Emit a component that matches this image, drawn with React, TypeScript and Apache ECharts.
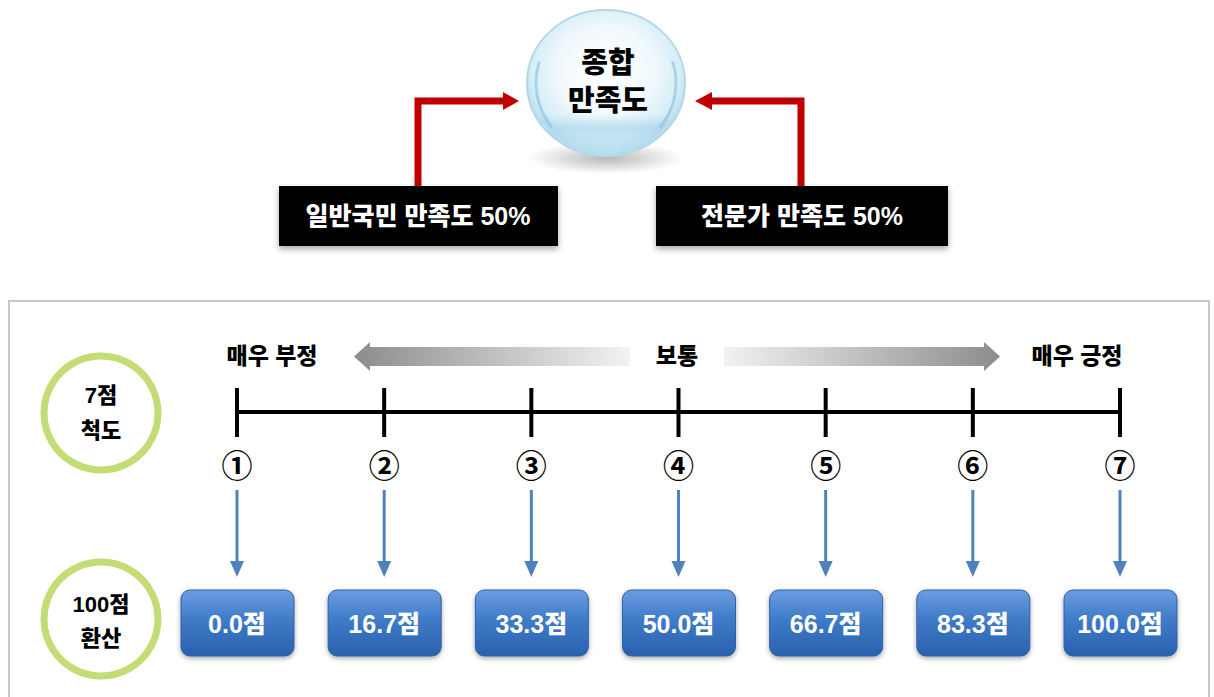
import React, { useEffect, useRef } from "react";
import * as echarts from "echarts";

// ---- data ----
const scalePoints = [1, 2, 3, 4, 5, 6, 7];
const scaleMarks = ["①", "②", "③", "④", "⑤", "⑥", "⑦"];
const convertedScores = [0.0, 16.7, 33.3, 50.0, 66.7, 83.3, 100.0];
const scaleEnds = ["매우 부정", "보통", "매우 긍정"];
const topTitle = ["종합", "만족도"];
const components = ["일반국민 만족도 50%", "전문가 만족도 50%"];
const rowLabels = [["7점", "척도"], ["100점", "환산"]];

const FONT = '"Liberation Sans", "Noto Sans CJK KR", sans-serif';

export default function App() {
  const ref = useRef<HTMLDivElement>(null);
  useEffect(() => {
    if (!ref.current) return;
    const chart = echarts.init(ref.current, undefined, { renderer: "svg" });

    const TL_Y = 412;

    const txt = (text: string, x: number, y: number, size: number, fill = "#000") => ({
      type: "text",
      silent: true,
      style: {
        text,
        x,
        y,
        fill,
        font: `900 ${size}px ${FONT}`,
        align: "center",
        verticalAlign: "middle",
        textAlign: "center",
        textVerticalAlign: "middle",
      },
    });

    const grayArrow = (tipX: number, endX: number, dir: number) => {
      const headLen = 16;
      const baseX = tipX - dir * headLen;
      return {
        type: "polygon",
        silent: true,
        shape: {
          points: [
            [endX, 347],
            [baseX, 347],
            [baseX, 342],
            [tipX, 356.5],
            [baseX, 371],
            [baseX, 366],
            [endX, 366],
          ],
        },
        style: {
          fill: {
            type: "linear",
            x: dir < 0 ? 0 : 1,
            y: 0,
            x2: dir < 0 ? 1 : 0,
            y2: 0,
            colorStops: [
              { offset: 0, color: "#8c8c8c" },
              { offset: 1, color: "#f2f2f2" },
            ],
          },
        },
      };
    };

    const graphic: any[] = [
      {
        type: "rect",
        silent: true,
        shape: { x: 9, y: 301, width: 1200, height: 420 },
        style: { fill: "#fff", stroke: "#c9c9c9", lineWidth: 2 },
        z: -10,
      },
      {
        type: "ellipse",
        silent: true,
        shape: { cx: 606, cy: 158, rx: 78, ry: 16 },
        style: {
          fill: {
            type: "radial",
            x: 0.5,
            y: 0.5,
            r: 0.5,
            colorStops: [
              { offset: 0, color: "rgba(0,0,0,0.28)" },
              { offset: 1, color: "rgba(0,0,0,0)" },
            ],
          },
        },
      },
      {
        type: "ellipse",
        silent: true,
        shape: { cx: 606, cy: 83, rx: 79, ry: 73 },
        style: {
          fill: {
            type: "radial",
            x: 0.5,
            y: 0.42,
            r: 0.55,
            colorStops: [
              { offset: 0, color: "#ffffff" },
              { offset: 0.55, color: "#f1f9fc" },
              { offset: 0.85, color: "#d6eef7" },
              { offset: 1, color: "#b5dcec" },
            ],
          },
          stroke: "#b3d9e9",
          lineWidth: 2,
        },
      },
      {
        type: "ellipse",
        silent: true,
        shape: { cx: 606, cy: 83, rx: 76, ry: 70 },
        style: {
          fill: {
            type: "linear",
            x: 0,
            y: 0,
            x2: 0,
            y2: 1,
            colorStops: [
              { offset: 0, color: "rgba(170,215,235,0)" },
              { offset: 0.72, color: "rgba(170,215,235,0)" },
              { offset: 0.82, color: "rgba(160,208,232,0.55)" },
              { offset: 1, color: "rgba(195,228,242,0.35)" },
            ],
          },
        },
      },
      {
        type: "arc",
        silent: true,
        shape: { cx: 606, cy: 83, r: 70, startAngle: Math.PI * 0.78, endAngle: Math.PI * 1.1 },
        style: { stroke: "rgba(130,190,220,0.55)", lineWidth: 3, fill: "none" },
      },
      {
        type: "arc",
        silent: true,
        shape: { cx: 606, cy: 83, r: 70, startAngle: -Math.PI * 0.1, endAngle: Math.PI * 0.22 },
        style: { stroke: "rgba(130,190,220,0.55)", lineWidth: 3, fill: "none" },
      },
      txt(topTitle[0], 608, 63, 29),
      txt(topTitle[1], 608, 101, 29),
      {
        type: "polyline",
        silent: true,
        shape: { points: [[418, 188], [418, 101], [506, 101]] },
        style: { stroke: "#c00000", lineWidth: 7, fill: "none", lineJoin: "miter" },
      },
      {
        type: "polygon",
        silent: true,
        shape: { points: [[503, 92], [503, 110], [519, 101]] },
        style: { fill: "#c00000" },
      },
      {
        type: "polyline",
        silent: true,
        shape: { points: [[801, 188], [801, 101], [709, 101]] },
        style: { stroke: "#c00000", lineWidth: 7, fill: "none", lineJoin: "miter" },
      },
      {
        type: "polygon",
        silent: true,
        shape: { points: [[712, 92], [712, 110], [695, 101]] },
        style: { fill: "#c00000" },
      },
      {
        type: "rect",
        silent: true,
        shape: { x: 279, y: 186, width: 279, height: 60 },
        style: { fill: "#000", shadowBlur: 6, shadowColor: "rgba(0,0,0,0.35)", shadowOffsetY: 3 },
      },
      txt(components[0], 418, 216, 25, "#fff"),
      {
        type: "rect",
        silent: true,
        shape: { x: 656, y: 186, width: 292, height: 60 },
        style: { fill: "#000", shadowBlur: 6, shadowColor: "rgba(0,0,0,0.35)", shadowOffsetY: 3 },
      },
      txt(components[1], 802, 216, 25, "#fff"),
      txt(scaleEnds[0], 272, 356, 23),
      txt(scaleEnds[1], 677, 356, 23),
      txt(scaleEnds[2], 1077, 356, 23),
      grayArrow(354, 630, -1),
      grayArrow(1000, 724, 1),
      {
        type: "circle",
        silent: true,
        shape: { cx: 101, cy: 413, r: 57 },
        style: { fill: "#fff", stroke: "#c3dc74", lineWidth: 7 },
      },
      txt(rowLabels[0][0], 101, 395, 22),
      txt(rowLabels[0][1], 101, 430, 22),
      {
        type: "circle",
        silent: true,
        shape: { cx: 101, cy: 619, r: 57 },
        style: { fill: "#fff", stroke: "#c3dc74", lineWidth: 7 },
      },
      txt(rowLabels[1][0], 101, 604, 22),
      txt(rowLabels[1][1], 101, 638, 22),
    ];

    const option: any = {
      animation: false,
      backgroundColor: "#ffffff",
      grid: { left: 237, right: 94, top: 0, bottom: 0 },
      xAxis: { type: "value", min: 1, max: 7, show: false },
      yAxis: { type: "value", min: 0, max: 697, inverse: true, show: false },
      graphic,
      series: [
        {
          type: "line",
          data: scalePoints.map((p) => [p, TL_Y]),
          symbol: "none",
          lineStyle: { color: "#000", width: 4 },
          silent: true,
          z: 2,
        },
        {
          type: "custom",
          data: scalePoints.map((p, i) => [p, convertedScores[i]]),
          silent: true,
          z: 3,
          renderItem: (params: any, api: any) => {
            const i = params.dataIndex;
            const cx = api.coord([api.value(0), TL_Y])[0];
            const y = (v: number) => api.coord([api.value(0), v])[1];
            const score = api.value(1) as number;
            const arrowColor = "#4f81bd";
            return {
              type: "group",
              children: [
                {
                  type: "line",
                  shape: { x1: cx, y1: y(388), x2: cx, y2: y(437) },
                  style: { stroke: "#000", lineWidth: 4 },
                },
                {
                  type: "text",
                  style: {
                    text: scaleMarks[i],
                    x: cx,
                    y: y(463),
                    fill: "#000",
                    font: `bold 31px "Noto Sans CJK KR", sans-serif`,
                    align: "center",
                    verticalAlign: "middle",
                  },
                },
                {
                  type: "line",
                  shape: { x1: cx, y1: y(490), x2: cx, y2: y(565) },
                  style: { stroke: arrowColor, lineWidth: 3 },
                },
                {
                  type: "polygon",
                  shape: { points: [[cx - 7, y(561)], [cx + 7, y(561)], [cx, y(577)]] },
                  style: { fill: arrowColor },
                },
                {
                  type: "rect",
                  shape: { x: cx - 56, y: y(590), width: 113, height: 66, r: 9 },
                  style: {
                    fill: {
                      type: "linear",
                      x: 0,
                      y: 0,
                      x2: 0,
                      y2: 1,
                      colorStops: [
                        { offset: 0, color: "#6a9de0" },
                        { offset: 0.45, color: "#3f7bc8" },
                        { offset: 1, color: "#2a60ad" },
                      ],
                    },
                    stroke: "#2d62a6",
                    lineWidth: 1,
                    shadowBlur: 5,
                    shadowColor: "rgba(0,0,0,0.35)",
                    shadowOffsetY: 2,
                  },
                },
                {
                  type: "text",
                  style: {
                    text: score.toFixed(1) + "점",
                    x: cx,
                    y: y(624),
                    fill: "#fff",
                    font: `900 25px ${FONT}`,
                    align: "center",
                    verticalAlign: "middle",
                  },
                },
              ],
            };
          },
        },
      ],
    };

    chart.setOption(option);
    return () => chart.dispose();
  }, []);

  return (
    <div
      ref={ref}
      style={{ position: "fixed", left: 0, top: 0, width: 1214, height: 697 }}
    />
  );
}
